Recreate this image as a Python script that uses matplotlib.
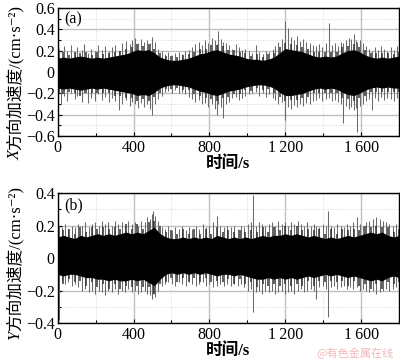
import numpy as np
import matplotlib
matplotlib.use("Agg")
import matplotlib.pyplot as plt
from matplotlib.ticker import MultipleLocator, FixedLocator, FixedFormatter

# ---------------- data ----------------
t_env = list(range(0, 1801, 30))

# dense black band (upper / lower edge)
a_core_hi = [0.13,0.14,0.13,0.14,0.15,0.14,0.13,0.14,0.13,0.14,0.15,0.16,0.17,0.19,0.21,0.20,0.21,0.18,0.14,0.12,
             0.11,0.11,0.12,0.13,0.15,0.17,0.18,0.20,0.21,0.19,0.17,0.16,0.15,0.13,0.12,0.12,0.11,0.12,0.14,0.18,
             0.22,0.21,0.20,0.19,0.17,0.15,0.14,0.15,0.14,0.15,0.18,0.20,0.21,0.19,0.16,0.14,0.13,0.14,0.13,0.14,0.15]
a_core_lo = [-0.15,-0.16,-0.15,-0.16,-0.17,-0.16,-0.15,-0.16,-0.15,-0.16,-0.17,-0.18,-0.19,-0.20,-0.22,-0.21,-0.22,-0.19,-0.15,-0.13,
             -0.12,-0.12,-0.13,-0.14,-0.16,-0.18,-0.19,-0.21,-0.22,-0.20,-0.18,-0.17,-0.16,-0.14,-0.13,-0.12,-0.12,-0.13,-0.15,-0.19,
             -0.22,-0.22,-0.21,-0.20,-0.18,-0.16,-0.15,-0.16,-0.15,-0.16,-0.19,-0.21,-0.22,-0.20,-0.17,-0.15,-0.14,-0.15,-0.14,-0.15,-0.15]
# dark fringe peaks just outside the band
a_fringe_hi = [0.17,0.19,0.16,0.19,0.18,0.19,0.16,0.19,0.17,0.18,0.19,0.20,0.22,0.23,0.26,0.24,0.26,0.22,0.18,0.15,
               0.15,0.14,0.16,0.17,0.19,0.22,0.22,0.25,0.25,0.24,0.21,0.21,0.19,0.18,0.15,0.17,0.14,0.17,0.18,0.23,
               0.27,0.26,0.25,0.23,0.22,0.19,0.19,0.19,0.19,0.19,0.23,0.24,0.26,0.23,0.21,0.18,0.18,0.18,0.18,0.17,0.19]
a_fringe_lo = [-0.19,-0.21,-0.19,-0.20,-0.22,-0.20,-0.20,-0.20,-0.20,-0.20,-0.22,-0.22,-0.24,-0.24,-0.27,-0.25,-0.27,-0.23,-0.20,-0.16,
               -0.16,-0.15,-0.17,-0.17,-0.21,-0.22,-0.24,-0.25,-0.27,-0.24,-0.23,-0.21,-0.21,-0.17,-0.18,-0.15,-0.17,-0.16,-0.20,-0.23,
               -0.27,-0.26,-0.26,-0.24,-0.23,-0.20,-0.20,-0.20,-0.20,-0.20,-0.24,-0.25,-0.27,-0.24,-0.22,-0.19,-0.19,-0.19,-0.19,-0.19,-0.19]
# individual peaks: (time s, max, min)
a_spikes = [
    (7, 0.22, -0.20), (18, 0.12, -0.30), (33, 0.24, -0.22), (52, 0.20, -0.27), (71, 0.25, -0.20), (90, 0.19, -0.25),
    (104, 0.23, -0.22), (127, 0.21, -0.28), (141, 0.26, -0.20), (160, 0.18, -0.29), (178, 0.22, -0.24), (199, 0.20, -0.27),
    (214, 0.25, -0.21), (236, 0.21, -0.26), (251, 0.24, -0.23), (270, 0.20, -0.28), (288, 0.23, -0.24),
    (305, 0.25, -0.27), (325, 0.20, -0.36), (341, 0.27, -0.30), (362, 0.29, -0.26), (380, 0.26, -0.32), (394, 0.30, -0.28),
    (408, 0.32, -0.30), (423, 0.27, -0.34), (440, 0.31, -0.29), (457, 0.28, -0.33), (472, 0.30, -0.30), (485, 0.27, -0.35),
    (498, 0.33, -0.40), (515, 0.28, -0.30), (530, 0.22, -0.25),
    (548, 0.20, -0.22), (566, 0.17, -0.19), (583, 0.19, -0.18), (601, 0.16, -0.20), (620, 0.18, -0.17), (638, 0.19, -0.20),
    (655, 0.17, -0.19), (673, 0.20, -0.21), (690, 0.21, -0.23),
    (708, 0.23, -0.25), (726, 0.26, -0.28), (743, 0.28, -0.26), (760, 0.25, -0.30), (778, 0.30, -0.29), (795, 0.27, -0.33),
    (812, 0.32, -0.30), (829, 0.30, -0.35), (838, 0.26, -0.40), (846, 0.38, -0.30), (860, 0.31, -0.33), (873, 0.28, -0.43),
    (888, 0.27, -0.30),
    (905, 0.25, -0.28), (921, 0.22, -0.24), (938, 0.26, -0.23), (955, 0.23, -0.26), (972, 0.21, -0.24), (990, 0.22, -0.22),
    (1006, 0.20, -0.21), (1024, 0.18, -0.20), (1045, 0.25, -0.19), (1062, 0.19, -0.22), (1080, 0.17, -0.20), (1098, 0.20, -0.23),
    (1115, 0.19, -0.21), (1133, 0.22, -0.24), (1148, 0.24, -0.26),
    (1163, 0.28, -0.30), (1180, 0.31, -0.28), (1197, 0.48, -0.30), (1200, 0.30, -0.45), (1215, 0.41, -0.33), (1230, 0.33, -0.35),
    (1246, 0.30, -0.31), (1262, 0.34, -0.33), (1279, 0.29, -0.30), (1295, 0.31, -0.32), (1311, 0.28, -0.29), (1328, 0.27, -0.30),
    (1344, 0.25, -0.27),
    (1360, 0.24, -0.26), (1377, 0.26, -0.24), (1394, 0.23, -0.27), (1412, 0.27, -0.25), (1429, 0.46, -0.24), (1445, 0.25, -0.27),
    (1462, 0.27, -0.26), (1478, 0.24, -0.28), (1492, 0.28, -0.30),
    (1503, 0.27, -0.48), (1518, 0.30, -0.32), (1533, 0.32, -0.35), (1547, 0.31, -0.33), (1560, 0.36, -0.36), (1573, 0.30, -0.34),
    (1580, 0.28, -0.56), (1594, 0.30, -0.32), (1608, 0.27, -0.30),
    (1625, 0.24, -0.27), (1641, 0.22, -0.25), (1655, 0.20, -0.36), (1672, 0.23, -0.24), (1688, 0.21, -0.27), (1704, 0.24, -0.23),
    (1721, 0.22, -0.26), (1738, 0.20, -0.24), (1755, 0.23, -0.25), (1771, 0.21, -0.27), (1787, 0.24, -0.24),
]

b_core_hi = [0.13,0.14,0.13,0.12,0.14,0.13,0.14,0.15,0.14,0.15,0.14,0.15,0.16,0.15,0.16,0.15,0.17,0.19,0.15,0.13,
             0.12,0.12,0.13,0.12,0.13,0.12,0.13,0.12,0.14,0.13,0.12,0.13,0.12,0.13,0.12,0.13,0.14,0.13,0.14,0.14,
             0.15,0.14,0.15,0.14,0.13,0.14,0.13,0.12,0.13,0.12,0.13,0.14,0.13,0.14,0.15,0.16,0.15,0.16,0.14,0.13,0.14]
b_core_lo = [-0.10,-0.11,-0.10,-0.10,-0.11,-0.12,-0.12,-0.13,-0.13,-0.14,-0.13,-0.14,-0.14,-0.13,-0.14,-0.13,-0.15,-0.17,-0.13,-0.10,
             -0.09,-0.10,-0.09,-0.10,-0.09,-0.10,-0.09,-0.10,-0.11,-0.10,-0.10,-0.11,-0.10,-0.11,-0.12,-0.13,-0.13,-0.12,-0.13,-0.12,
             -0.13,-0.12,-0.13,-0.12,-0.11,-0.12,-0.11,-0.10,-0.11,-0.10,-0.11,-0.12,-0.11,-0.12,-0.13,-0.14,-0.13,-0.14,-0.12,-0.11,-0.12]
b_fringe_hi = [0.17,0.17,0.18,0.15,0.19,0.16,0.19,0.18,0.19,0.18,0.19,0.18,0.21,0.18,0.21,0.18,0.22,0.23,0.20,0.16,
               0.17,0.15,0.18,0.15,0.18,0.15,0.18,0.15,0.19,0.16,0.17,0.16,0.17,0.16,0.17,0.16,0.19,0.16,0.19,0.17,
               0.20,0.17,0.20,0.17,0.18,0.17,0.18,0.15,0.18,0.15,0.18,0.17,0.18,0.17,0.20,0.19,0.20,0.19,0.19,0.16,0.18]
b_fringe_lo = [-0.13,-0.16,-0.13,-0.15,-0.14,-0.17,-0.15,-0.18,-0.16,-0.19,-0.16,-0.19,-0.17,-0.18,-0.17,-0.18,-0.18,-0.22,-0.16,-0.15,
               -0.12,-0.15,-0.12,-0.15,-0.12,-0.15,-0.12,-0.15,-0.14,-0.15,-0.13,-0.16,-0.13,-0.16,-0.15,-0.18,-0.16,-0.17,-0.16,-0.17,
               -0.16,-0.17,-0.16,-0.17,-0.14,-0.17,-0.14,-0.15,-0.14,-0.15,-0.14,-0.17,-0.14,-0.17,-0.16,-0.19,-0.16,-0.19,-0.15,-0.16,-0.15]
b_spikes = [
    (8, 0.20, -0.38), (22, 0.19, -0.14), (40, 0.21, -0.16), (57, 0.18, -0.15), (75, 0.20, -0.17), (93, 0.19, -0.16),
    (110, 0.21, -0.18), (128, 0.20, -0.20), (146, 0.22, -0.19), (163, 0.19, -0.21), (181, 0.21, -0.20),
    (199, 0.22, -0.22), (216, 0.20, -0.20), (234, 0.23, -0.21), (250, 0.21, -0.23), (268, 0.22, -0.20), (285, 0.20, -0.21),
    (302, 0.23, -0.19), (320, 0.21, -0.22), (338, 0.22, -0.20), (355, 0.20, -0.21), (373, 0.23, -0.19), (390, 0.21, -0.21),
    (408, 0.22, -0.20), (425, 0.20, -0.22), (442, 0.23, -0.21),
    (458, 0.22, -0.20), (473, 0.25, -0.22), (488, 0.24, -0.23), (500, 0.27, -0.25), (503, 0.29, -0.22), (515, 0.26, -0.24),
    (530, 0.23, -0.20),
    (548, 0.19, -0.17), (566, 0.18, -0.16), (584, 0.20, -0.15), (602, 0.17, -0.16), (620, 0.19, -0.17), (638, 0.18, -0.15),
    (656, 0.20, -0.16), (674, 0.17, -0.17), (692, 0.19, -0.15), (710, 0.18, -0.16), (728, 0.20, -0.17), (746, 0.18, -0.16),
    (764, 0.21, -0.15), (782, 0.19, -0.17), (800, 0.20, -0.16), (818, 0.22, -0.18), (840, 0.26, -0.17), (858, 0.20, -0.16),
    (876, 0.19, -0.17), (894, 0.20, -0.16),
    (912, 0.19, -0.17), (930, 0.20, -0.16), (948, 0.18, -0.17), (966, 0.20, -0.16), (984, 0.19, -0.18),
    (1002, 0.21, -0.20), (1018, 0.22, -0.19), (1031, 0.39, -0.33), (1046, 0.20, -0.21), (1062, 0.22, -0.20), (1078, 0.21, -0.22),
    (1094, 0.20, -0.20),
    (1112, 0.21, -0.21), (1129, 0.22, -0.20), (1146, 0.20, -0.22), (1163, 0.23, -0.21), (1180, 0.21, -0.20), (1197, 0.22, -0.22),
    (1214, 0.20, -0.21), (1231, 0.22, -0.20), (1248, 0.21, -0.22), (1265, 0.23, -0.20), (1282, 0.21, -0.19), (1299, 0.20, -0.21),
    (1316, 0.22, -0.20), (1333, 0.20, -0.19), (1349, 0.21, -0.20), (1364, 0.20, -0.25),
    (1380, 0.19, -0.18), (1397, 0.21, -0.17), (1414, 0.20, -0.19), (1425, 0.29, -0.36), (1440, 0.20, -0.18), (1457, 0.19, -0.17),
    (1474, 0.21, -0.19), (1491, 0.20, -0.18), (1508, 0.19, -0.17), (1525, 0.21, -0.19), (1542, 0.20, -0.18), (1559, 0.22, -0.19),
    (1575, 0.25, -0.18), (1592, 0.21, -0.20), (1609, 0.20, -0.19), (1626, 0.22, -0.20), (1643, 0.23, -0.21), (1660, 0.24, -0.20),
    (1680, 0.25, -0.22), (1697, 0.24, -0.21), (1714, 0.23, -0.20), (1731, 0.22, -0.19), (1748, 0.21, -0.20), (1765, 0.20, -0.19),
    (1782, 0.21, -0.18), (1797, 0.20, -0.19),
]

x_ticks = [0, 400, 800, 1200, 1600]
x_ticklabels = ["0", "400", "800", "1\u2009200", "1\u2009600"]
a_yticks = [-0.6, -0.4, -0.2, 0, 0.2, 0.4, 0.6]
a_yticklabels = ["\u22120.6", "\u22120.4", "\u22120.2", "0", "0.2", "0.4", "0.6"]
b_yticks = [-0.4, -0.2, 0, 0.2, 0.4]
b_yticklabels = ["\u22120.4", "\u22120.2", "0", "0.2", "0.4"]

# ---------------- style ----------------
FAM = ['Liberation Serif', 'DejaVu Serif', 'Noto Sans CJK SC']
plt.rcParams['font.family'] = FAM
plt.rcParams['font.size'] = 11.5

fig = plt.figure(figsize=(4.0, 3.63), dpi=100)
ax_a = fig.add_axes([0.144, 0.625, 0.854, 0.353])
ax_b = fig.add_axes([0.144, 0.110, 0.854, 0.358])


def draw(ax, core_hi, core_lo, fr_hi, fr_lo, spikes, yticks, ylabels, ylim, lab, letter, lab_y):
    st = [s[0] for s in spikes]
    sh = [s[1] for s in spikes]
    sl = [s[2] for s in spikes]
    ax.vlines(st, sl, sh, color='#6a6a6a', lw=0.75, zorder=2)
    ax.vlines(t_env, fr_lo, fr_hi, color='#333333', lw=1.1, zorder=2.5)
    ax.fill_between(t_env, core_lo, core_hi, color='black', lw=0, zorder=3)
    ax.set_xlim(0, 1800)
    ax.set_ylim(*ylim)
    ax.xaxis.set_major_locator(FixedLocator(x_ticks))
    ax.xaxis.set_major_formatter(FixedFormatter(x_ticklabels))
    ax.xaxis.set_minor_locator(MultipleLocator(200))
    ax.yaxis.set_major_locator(FixedLocator(yticks))
    ax.yaxis.set_major_formatter(FixedFormatter(ylabels))
    ax.yaxis.set_minor_locator(MultipleLocator(0.1))
    ax.grid(which='major', color='#c0c0c0', lw=1.0, zorder=0)
    ax.grid(which='minor', color='#d8d8d8', lw=0.7, ls=(0, (1, 1.5)), zorder=0)
    ax.set_axisbelow(True)
    ax.tick_params(which='both', direction='in', length=3, width=0.8, pad=2)
    ax.tick_params(which='minor', length=2)
    ax.tick_params(axis='x', pad=3)
    for s in ax.spines.values():
        s.set_linewidth(1.0)
        s.set_color('black')
    ax.text(0.02, 0.97, letter, transform=ax.transAxes, ha='left', va='top', fontsize=11.5, zorder=5)
    ax.set_xlabel("时间/s", fontsize=12, fontweight='bold', labelpad=0)
    # y label with italic leading letter
    t1 = ax.text(-0.124, lab_y, lab, transform=ax.transAxes, rotation=90, ha='center', va='bottom',
                 fontsize=12, fontstyle='italic')
    ax.annotate("方向加速度/(cm\u00b7s\u207b\u00b2)", xy=(0.5, 1.0), xycoords=t1, rotation=90,
                ha='center', va='bottom', fontsize=12)


draw(ax_a, a_core_hi, a_core_lo, a_fringe_hi, a_fringe_lo, a_spikes, a_yticks, a_yticklabels,
     (-0.6, 0.6), "X", "(a)", -0.19)
draw(ax_b, b_core_hi, b_core_lo, b_fringe_hi, b_fringe_lo, b_spikes, b_yticks, b_yticklabels,
     (-0.4, 0.4), "Y", "(b)", -0.13)

fig.text(0.985, 0.012, "@有色金属在线", ha='right', va='bottom', fontsize=8, color='#f2b8bc',
         family='Noto Sans CJK SC')

fig.savefig("out.png", dpi=100)
